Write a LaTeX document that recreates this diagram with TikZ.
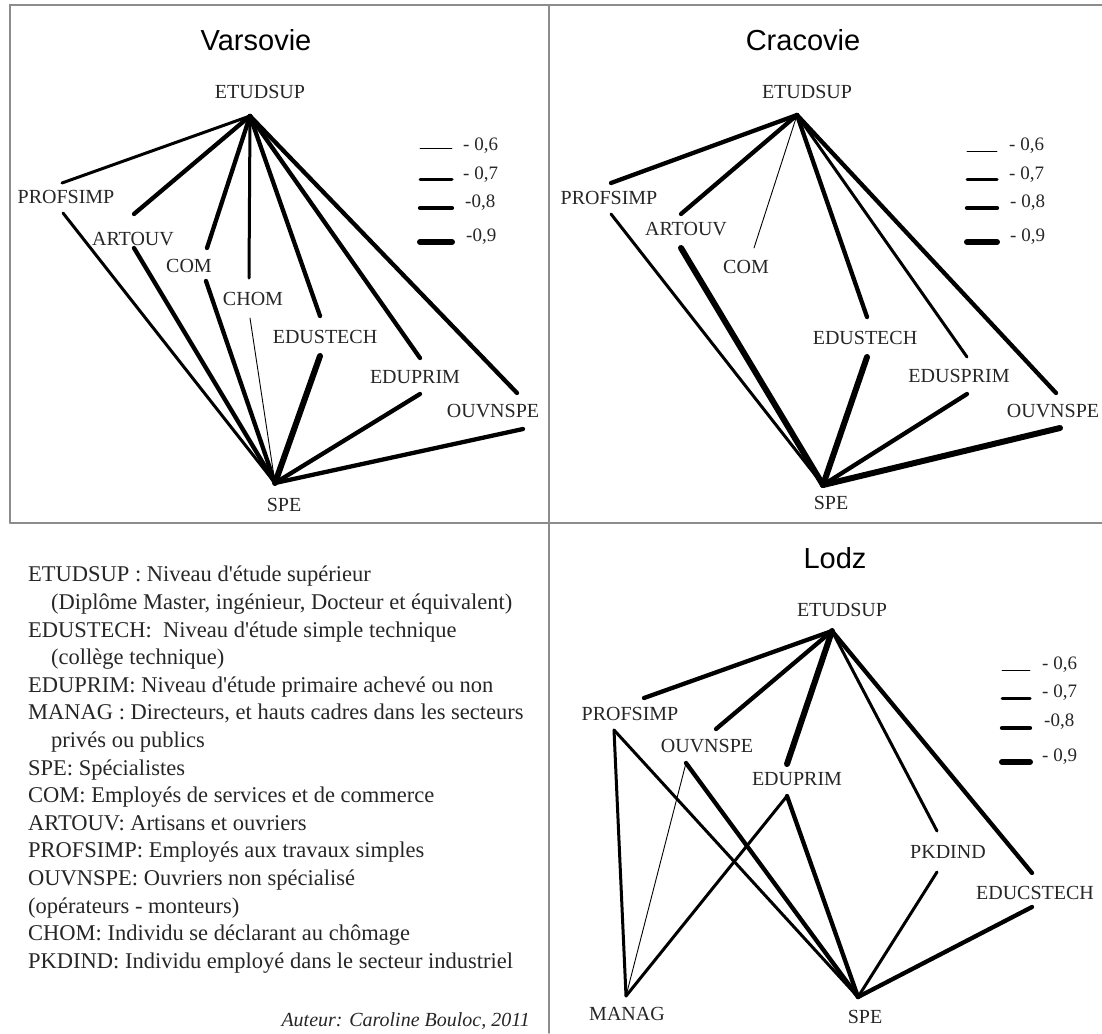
\documentclass[tikz,border=0pt]{standalone}
\usepackage{fontspec}
\setmainfont{Liberation Serif}
\newfontfamily\titlefont{Liberation Sans}
\usetikzlibrary{positioning}

\begin{document}
\begin{tikzpicture}[
    x=1pt, y=-1pt,
    line cap=round,
    lbl/.style={font=\fontsize{20}{22}\selectfont, text=black!85, inner sep=0pt},
    ttl/.style={font=\titlefont\fontsize{29}{32}\selectfont},
    num/.style={font=\fontsize{19}{21}\selectfont, text=black!85, anchor=west, inner sep=0pt},
    frm/.style={draw=black!45, line width=1.5pt},
    r6/.style={line width=0.9pt},
    r7/.style={line width=3pt},
    r8/.style={line width=4.3pt},
    r9/.style={line width=6pt},
  ]
  \useasboundingbox (0,0) rectangle (1102,1033);

  % Frame
  \draw[frm] (10,523) -- (10,5) -- (1102,5);
  \draw[frm] (10,523) -- (1102,523);
  \draw[frm] (549,5) -- (549,1033);

  % Varsovie
  \node[ttl] (v-title) at (256,40) {Varsovie};
  \node[lbl] (v-etud) at (260,92) {ETUDSUP};
  \node[lbl] (v-prof) at (66,197) {PROFSIMP};
  \node[lbl] (v-art) at (133,239) {ARTOUV};
  \node[lbl] (v-com) at (189,266) {COM};
  \node[lbl] (v-chom) at (253,299) {CHOM};
  \node[lbl] (v-edus) at (325,337) {EDUSTECH};
  \node[lbl] (v-edup) at (415,377) {EDUPRIM};
  \node[lbl] (v-ouv) at (493,411) {OUVNSPE};
  \node[lbl] (v-spe) at (284,505) {SPE};
  \coordinate (v-etud-h) at (250,116);
  \coordinate (v-spe-h) at (275,483);
  \coordinate (v-prof-t) at (62,183);  \coordinate (v-prof-b) at (63,213);
  \coordinate (v-art-t) at (134,214);  \coordinate (v-art-b) at (134,248);
  \coordinate (v-com-t) at (207,248);  \coordinate (v-com-b) at (206,281);
  \coordinate (v-chom-t) at (249,278); \coordinate (v-chom-b) at (250,318);
  \coordinate (v-edus-t) at (320,316); \coordinate (v-edus-b) at (320,356);
  \coordinate (v-edup-t) at (420,358); \coordinate (v-edup-b) at (420,394);
  \coordinate (v-ouv-t) at (517,393);  \coordinate (v-ouv-b) at (523,429);

  \draw[r7] (v-etud-h) -- (v-prof-t);
  \draw[r8] (v-etud-h) -- (v-art-t);
  \draw[r8] (v-etud-h) -- (v-com-t);
  \draw[r7] (v-etud-h) -- (v-chom-t);
  \draw[r8] (v-etud-h) -- (v-edus-t);
  \draw[r8] (v-etud-h) -- (v-edup-t);
  \draw[r8] (v-etud-h) -- (v-ouv-t);
  \draw[r7] (v-spe-h) -- (v-prof-b);
  \draw[r8] (v-spe-h) -- (v-art-b);
  \draw[r8] (v-spe-h) -- (v-com-b);
  \draw[r6] (v-spe-h) -- (v-chom-b);
  \draw[r9] (v-spe-h) -- (v-edus-b);
  \draw[r8] (v-spe-h) -- (v-edup-b);
  \draw[r8] (v-spe-h) -- (v-ouv-b);

  % legend
  \draw[r6] (420,148) -- (452,148); \node[num] (v-k6) at (463,146) {- 0,6};
  \draw[r7] (420,179) -- (452,179); \node[num] (v-k7) at (463,175) {- 0,7};
  \draw[r8] (420,208) -- (452,208); \node[num] (v-k8) at (465,203) {-0,8};
  \draw[r9] (420,242) -- (452,242); \node[num] (v-k9) at (466,237) {-0,9};

  % Cracovie
  \node[ttl] (c-title) at (803,40) {Cracovie};
  \node[lbl] (c-etud) at (807,92) {ETUDSUP};
  \node[lbl] (c-prof) at (609,198) {PROFSIMP};
  \node[lbl] (c-art) at (686,229) {ARTOUV};
  \node[lbl] (c-com) at (746,267) {COM};
  \node[lbl] (c-edus) at (865,338) {EDUSTECH};
  \node[lbl] (c-edup) at (959,376) {EDUSPRIM};
  \node[lbl] (c-ouv) at (1053,411) {OUVNSPE};
  \node[lbl] (c-spe) at (831,503) {SPE};
  \coordinate (c-etud-h) at (797,115);
  \coordinate (c-spe-h) at (823,485);
  \coordinate (c-prof-t) at (611,183);  \coordinate (c-prof-b) at (611,214);
  \coordinate (c-art-t) at (681,214);   \coordinate (c-art-b) at (681,248);
  \coordinate (c-com-t) at (754,248);
  \coordinate (c-edus-t) at (867,317);  \coordinate (c-edus-b) at (867,357);
  \coordinate (c-edup-t) at (967,357);  \coordinate (c-edup-b) at (967,394);
  \coordinate (c-ouv-t) at (1056,393);  \coordinate (c-ouv-b) at (1060,428);

  \draw[r8] (c-etud-h) -- (c-prof-t);
  \draw[r8] (c-etud-h) -- (c-art-t);
  \draw[r6] (c-etud-h) -- (c-com-t);
  \draw[r8] (c-etud-h) -- (c-edus-t);
  \draw[r7] (c-etud-h) -- (c-edup-t);
  \draw[r8] (c-etud-h) -- (c-ouv-t);
  \draw[r7] (c-spe-h) -- (c-prof-b);
  \draw[r9] (c-spe-h) -- (c-art-b);
  \draw[r9] (c-spe-h) -- (c-edus-b);
  \draw[r8] (c-spe-h) -- (c-edup-b);
  \draw[r9] (c-spe-h) -- (c-ouv-b);

  % legend
  \draw[r6] (967,151) -- (997,151); \node[num] (c-k6) at (1009,146) {- 0,6};
  \draw[r7] (967,179) -- (997,179); \node[num] (c-k7) at (1009,175) {- 0,7};
  \draw[r8] (967,208) -- (997,208); \node[num] (c-k8) at (1010,203) {- 0,8};
  \draw[r9] (967,242) -- (997,242); \node[num] (c-k9) at (1010,237) {- 0,9};

  % Lodz
  \node[ttl] (l-title) at (835,558) {Lodz};
  \node[lbl] (l-etud) at (842,610) {ETUDSUP};
  \node[lbl] (l-prof) at (630,714) {PROFSIMP};
  \node[lbl] (l-ouv) at (707,746) {OUVNSPE};
  \node[lbl] (l-edup) at (797,779) {EDUPRIM};
  \node[lbl] (l-pkd) at (948,852) {PKDIND};
  \node[lbl] (l-educ) at (1035,893) {EDUCSTECH};
  \node[lbl] (l-manag) at (627,1014) {MANAG};
  \node[lbl] (l-spe) at (865,1017) {SPE};
  \coordinate (l-etud-h) at (832,631);
  \coordinate (l-manag-h) at (626,996);
  \coordinate (l-spe-h) at (858,997);
  \coordinate (l-prof-t) at (644,698);  \coordinate (l-prof-b) at (614,730);
  \coordinate (l-ouv-t) at (716,729);   \coordinate (l-ouv-b) at (686,763);
  \coordinate (l-edup-t) at (787,764);  \coordinate (l-edup-b) at (787,796);
  \coordinate (l-pkd-t) at (937,831);   \coordinate (l-pkd-b) at (937,872);
  \coordinate (l-educ-t) at (1032,873); \coordinate (l-educ-b) at (1032,907);

  \draw[r8] (l-etud-h) -- (l-prof-t);
  \draw[r8] (l-etud-h) -- (l-ouv-t);
  \draw[r9] (l-etud-h) -- (l-edup-t);
  \draw[r7] (l-etud-h) -- (l-pkd-t);
  \draw[r8] (l-etud-h) -- (l-educ-t);
  \draw[r7] (l-manag-h) -- (l-prof-b);
  \draw[r6] (l-manag-h) -- (l-ouv-b);
  \draw[r7] (l-manag-h) -- (l-edup-b);
  \draw[r7] (l-spe-h) -- (l-prof-b);
  \draw[r8] (l-spe-h) -- (l-ouv-b);
  \draw[r8] (l-spe-h) -- (l-edup-b);
  \draw[r7] (l-spe-h) -- (l-pkd-b);
  \draw[r8] (l-spe-h) -- (l-educ-b);

  % legend
  \draw[r6] (1002,670) -- (1030,670); \node[num] (l-k6) at (1042,665) {- 0,6};
  \draw[r7] (1002,698) -- (1030,698); \node[num] (l-k7) at (1042,693) {- 0,7};
  \draw[r8] (1002,728) -- (1030,728); \node[num] (l-k8) at (1044,722) {-0,8};
  \draw[r9] (1002,762) -- (1030,762); \node[num] (l-k9) at (1042,757) {- 0,9};

  % Abbreviations
  \node[anchor=north west, align=left, inner sep=0pt, text=black!85,
        font=\fontsize{22.5}{27.6}\selectfont] (abbr) at (28,566)
    {ETUDSUP : Niveau d\textquotesingle étude supérieur\\
     \hspace*{23pt}(Diplôme Master, ingénieur, Docteur et équivalent)\\
     EDUSTECH:\ \ Niveau d\textquotesingle étude simple technique\\
     \hspace*{23pt}(collège technique)\\
     EDUPRIM: Niveau d\textquotesingle étude primaire achevé ou non\\
     MANAG : Directeurs, et hauts cadres dans les secteurs\\
     \hspace*{23pt}privés ou publics\\
     SPE: Spécialistes\\
     COM: Employés de services et de commerce\\
     ARTOUV: Artisans et ouvriers\\
     PROFSIMP: Employés aux travaux simples\\
     OUVNSPE: Ouvriers non spécialisé\\
     (opérateurs - monteurs)\\
     CHOM: Individu se déclarant au chômage\\
     PKDIND: Individu employé dans le secteur industriel};
  \node[anchor=base east, inner sep=0pt, text=black!85,
        font=\itshape\fontsize{20}{22}\selectfont] (auteur) at (530,1026)
    {Auteur: Caroline Bouloc, 2011};
\end{tikzpicture}
\end{document}
